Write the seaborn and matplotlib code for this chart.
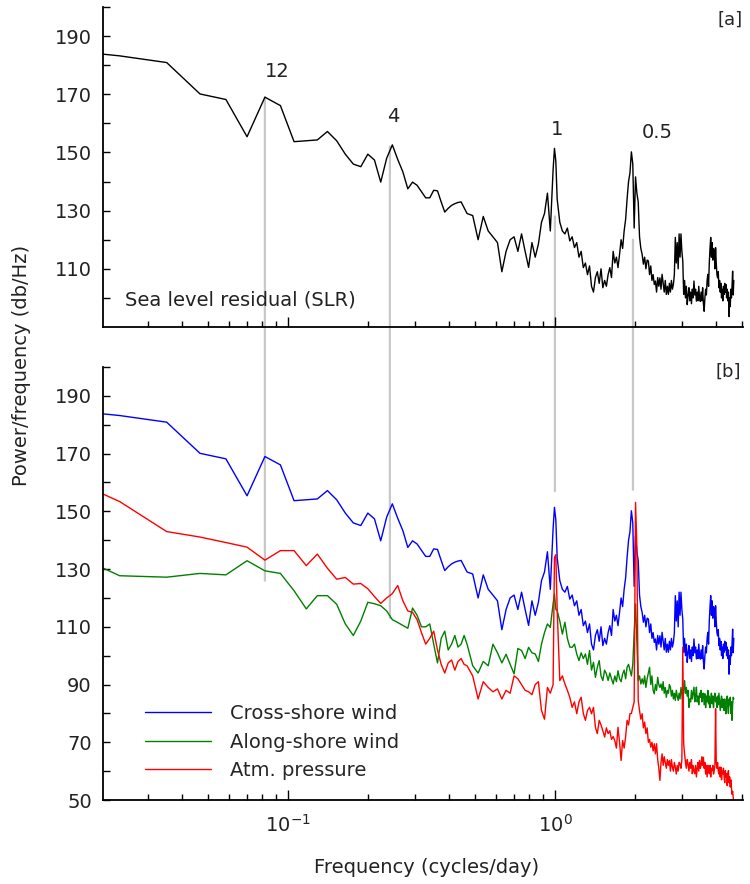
import numpy as np
import pandas as pd
import matplotlib
matplotlib.use("Agg")
import matplotlib.pyplot as plt
from matplotlib.patches import ConnectionPatch
from matplotlib.ticker import FixedLocator
import seaborn as sns

# ------------------------------------------ DATA ------------------------------------------------#
# periodogram bin width (cycles/day) and the bins that are drawn
DF = 0.01171875
BINS = list(range(1, 41)) + list(range(42, 85, 2)) + [85, 86] + list(range(87, 400, 2))

# sea level residual = cross-shore wind spectrum (same curve in both panels), db/Hz
slr = [186, 183.2, 180.9, 170.1, 168.2, 155.4, 169.0, 166.1, 153.7, 154.0,
       154.3, 157.2, 154.0, 149.4, 146.0, 145.1, 149.4, 147.4, 139.8, 148.0,
       152.6, 147.6, 143.3, 137.5, 139.8, 138.7, 136.5, 134.4, 134.4, 137.0,
       136.8, 133.0, 129.5, 130.8, 131.8, 132.4, 132.8, 133.0, 131.0, 129.0,
       # bins 42-84
       128.3, 120, 128, 123, 121, 119, 109, 116, 120, 121, 116, 122, 116, 110.5, 119, 114,
       118.5, 126, 129, 136, 123, 144,
       # bins 85, 86
       151.4, 147,
       # bins 87-399
       134, 126, 123, 122, 124, 119.6, 121, 117.3, 119, 114,
       116, 110.4, 112, 108, 111, 104, 102, 107, 109, 105,
       110, 103.5, 106, 104, 108, 110.4, 107, 116, 112, 114,
       110.4, 115, 120, 117, 123, 127, 134, 140, 143, 150.2,
       146, 124, 141.6, 136, 133, 121, 117, 115, 111.6, 114,
       110, 113, 112.7, 108, 111, 106, 108, 104.6, 105.8, 102,
       107, 104, 106.9, 103, 108.1, 105, 102, 106, 101.2, 104,
       101.2, 105, 102, 106, 103, 104.6, 108, 120.8, 112, 119,
       110, 122, 114, 122, 116, 112.7, 101.2, 106, 100, 104,
       97.7, 101, 103.5, 99, 102, 98, 103, 100, 105.8, 101,
       103, 98.9, 102, 99, 104, 100, 98.8, 102, 99, 103.5,
       98, 95.4, 100, 103, 101, 106, 108.1, 104, 112, 117,
       120.8, 114, 119, 113, 117, 116.2, 110, 117.3, 112, 108,
       106.9, 109, 103.5, 106, 102, 105, 100, 103, 99, 104,
       101.2, 105, 102, 104.6, 100, 103, 99, 102, 93.6, 100,
       97, 103, 100, 104, 109.2, 101, 106]
cross_wind = slr

along_wind = [140.6, 127.7, 127.2, 128.5, 128.0, 132.9, 129.4, 128.5, 122.5, 116.2,
              120.8, 120.8, 117.8, 111.0, 107.0, 112.0, 118.5, 118.0, 117.3, 115.5,
              112.5, 111.5, 110.5, 109.5, 116.5, 114.0, 110.0, 110.0, 111.0, 104.0,
              97.5, 106.0, 108.5, 102.0, 104.0, 107.0, 103.0, 104.0, 107.0, 104.0,
              96.5, 94, 98, 96.5, 104, 101, 97.5, 100.5, 97, 93.7, 102.5, 101.8, 99, 102.9,
              101, 100.6, 98, 104, 108, 111, 109.8, 118,
              121.4, 116,
              115.6, 112, 107.5, 111.6, 106, 103, 102.9, 104, 100.6, 98.3,
              101, 99, 100.6, 97, 101.8, 95, 97.7, 92.5, 96, 98.3,
              93, 91.4, 95, 93.7, 91.4, 94, 92, 90.2, 93, 91,
              94.8, 92, 91, 93.7, 95, 92, 96, 97, 95, 93,
              97, 108, 117.9, 104, 91.4, 93, 90.2, 92, 90.2, 93,
              89, 92, 94, 96, 90, 93, 88, 86.8, 90, 88,
              92.5, 90, 89, 90.2, 88, 91, 87, 89, 85.6, 88,
              87, 90, 89.1, 86, 88, 85, 87, 84.5, 88, 86,
              84.5, 87, 85, 89, 86.8, 84, 88, 91.4, 87, 89,
              86, 88, 82.1, 85, 84, 88, 85, 87, 89.1, 84,
              86, 89.1, 84, 86, 83, 87, 85.6, 88, 84, 86.8,
              87, 83, 86.8, 82, 86, 84, 88, 83.3, 86, 82,
              85, 87, 83.3, 86, 82, 85.6, 87, 84, 85.6, 82,
              86, 83, 87, 84, 81, 84.5, 86, 82, 85, 84.5,
              81, 85, 82, 79.9, 84, 86, 82, 80, 85, 83,
              85.6, 80, 84, 77.6, 83, 85.6, 85]

atm_pressure = [166, 153.4, 143.0, 141.1, 139.2, 137.6, 133.1, 136.4, 136.4, 131.2,
                135.2, 130.3, 126.5, 127.1, 124.8, 125.0, 123.2, 120.5, 118.1, 120.0,
                121.5, 124.3, 119.0, 115.5, 115.0, 112.5, 108.0, 104.0, 106.0, 108.5,
                102.0, 97.0, 94.0, 97.5, 98.5, 95.0, 98.0, 99.0, 97.0, 96.5,
                93, 85, 91, 89, 87.5, 88.5, 85, 88, 87, 93, 92, 90, 88, 87.5,
                86.5, 90, 91, 81, 78, 89, 87, 90,
                134, 135,
                116, 91.4, 93, 90.2, 88, 85.6, 82.1, 84, 79.9, 84,
                85.6, 80, 77.6, 81, 82.1, 79.9, 82.1, 75.2, 73, 77.6,
                76, 74, 71.8, 75, 73, 74, 71, 72, 70.6, 68,
                75.2, 70, 63.7, 70.6, 68, 72, 77.6, 76, 79.9, 80,
                82.1, 84, 153.1, 137.5, 84.5, 81, 78, 79.9, 75, 77,
                73, 75, 70, 71, 68.3, 70, 67, 69.5, 66, 69.5,
                64, 61, 56.8, 63, 66, 62, 65, 63, 61, 64,
                62, 63.7, 60, 64, 61.4, 60, 63, 61.4, 59, 62,
                60, 63, 62.5, 61, 64, 102.9, 69.5, 66, 63, 61,
                64, 62.5, 60, 63, 61, 64, 59.1, 62, 60, 59.1,
                62, 58, 61, 63, 60, 63.7, 61, 62, 65, 62,
                64.8, 61, 63, 59, 62, 58, 62, 60, 59.1, 62,
                58, 61, 60.2, 62, 59, 60.2, 62, 81.6, 63, 61,
                63, 60, 59, 61.4, 58, 61.4, 57, 60, 59.1, 61,
                58, 56, 60.2, 58, 59.1, 55, 59, 60.2, 56, 58,
                54.5, 57, 54.5, 52, 53, 51, 48]

series_names = ["Cross-shore wind", "Along-shore wind", "Atm. pressure"]
series_colors = ["#0000ff", "#008000", "#ff0000"]

# periods (days) marked in panel a, and where the connecting grey lines sit
mark_labels = ["12", "4", "1", "0.5"]
mark_freq = [0.082, 0.241, 1.0, 1.96]
mark_top = [169, 152, 128, 120]      # panel a value where the line starts
mark_bot = [126, 113, 157, 157.5]    # panel b value where the line ends
label_pos = [(0.091, 177.9), (0.247, 162.3), (1.02, 157.8), (2.41, 156.7)]

# ------------------------------------------ PLOT ------------------------------------------------#
freq = np.array(BINS) * DF
df = pd.DataFrame({"freq": freq, "slr": slr, "Cross-shore wind": cross_wind,
                   "Along-shore wind": along_wind, "Atm. pressure": atm_pressure})

sns.set_style("ticks")
plt.rcParams["font.family"] = ["DejaVu Sans"]
FS = 14

fig = plt.figure(figsize=(7.5, 8.84), dpi=100, facecolor="white")
ax1 = fig.add_axes([0.1373, 0.6301, 0.8533, 0.362])
ax2 = fig.add_axes([0.1373, 0.095, 0.8533, 0.4898])

sns.lineplot(data=df, x="freq", y="slr", ax=ax1, color="black", lw=1.0)
for name, col in zip(series_names, series_colors):
    sns.lineplot(data=df, x="freq", y=name, ax=ax2, color=col, lw=1.0, label=name)

for ax, lo in [(ax1, 90), (ax2, 50)]:
    ax.set_xscale("log")
    ax.set_xlim(0.0203, 5.06)
    ax.set_ylim(lo, 200)
    ax.set_xlabel("")
    ax.set_ylabel("")
    ax.patch.set_visible(False)
    ax.spines[["top", "right"]].set_visible(False)
    for s in ["left", "bottom"]:
        ax.spines[s].set_color("black")
        ax.spines[s].set_linewidth(1.3)
    ax.tick_params(which="both", direction="in", color="black", width=1.0,
                   labelsize=FS, labelcolor="#222222")
    ax.tick_params(axis="x", which="major", length=7, pad=10)
    ax.tick_params(axis="x", which="minor", length=4)
    ax.tick_params(axis="y", which="both", length=5, pad=8)

ax1.yaxis.set_major_locator(FixedLocator(range(110, 200, 20)))
ax1.yaxis.set_minor_locator(FixedLocator(range(100, 201, 20)))
ax2.yaxis.set_major_locator(FixedLocator(range(50, 200, 20)))
ax2.yaxis.set_minor_locator(FixedLocator(range(60, 201, 20)))
ax1.tick_params(labelbottom=False)

# grey lines tying the spectral peaks of panel a to panel b
for f, yt, yb in zip(mark_freq, mark_top, mark_bot):
    con = ConnectionPatch(xyA=(f, yt), coordsA=ax1.transData,
                          xyB=(f, yb), coordsB=ax2.transData,
                          color="#c8c8c8", lw=1.6, zorder=-1)
    fig.add_artist(con)

for txt, (x, y) in zip(mark_labels, label_pos):
    ax1.text(x, y, txt, fontsize=FS, ha="center", va="center", color="#222222")

ax1.text(0.98, 0.96, "[a]", transform=ax1.transAxes, fontsize=FS - 1, ha="center", va="center")
ax2.text(0.977, 0.988, "[b]", transform=ax2.transAxes, fontsize=FS - 1, ha="center", va="center")
ax1.text(0.034, 0.084, "Sea level residual (SLR)", transform=ax1.transAxes, fontsize=FS,
         ha="left", va="center", color="#222222")

ax2.legend(loc="center left", bbox_to_anchor=(0.053, 0.134), frameon=False, fontsize=FS,
           handlelength=3.4, handletextpad=1.0, labelspacing=0.5, borderaxespad=0)

fig.text(0.029, 0.587, "Power/frequency (db/Hz)", rotation=90, fontsize=FS,
         ha="center", va="center", color="#222222")
fig.text(0.569, 0.019, "Frequency (cycles/day)", fontsize=FS, ha="center", va="center",
         color="#222222")

fig.savefig("out.png", dpi=100, facecolor="white")
